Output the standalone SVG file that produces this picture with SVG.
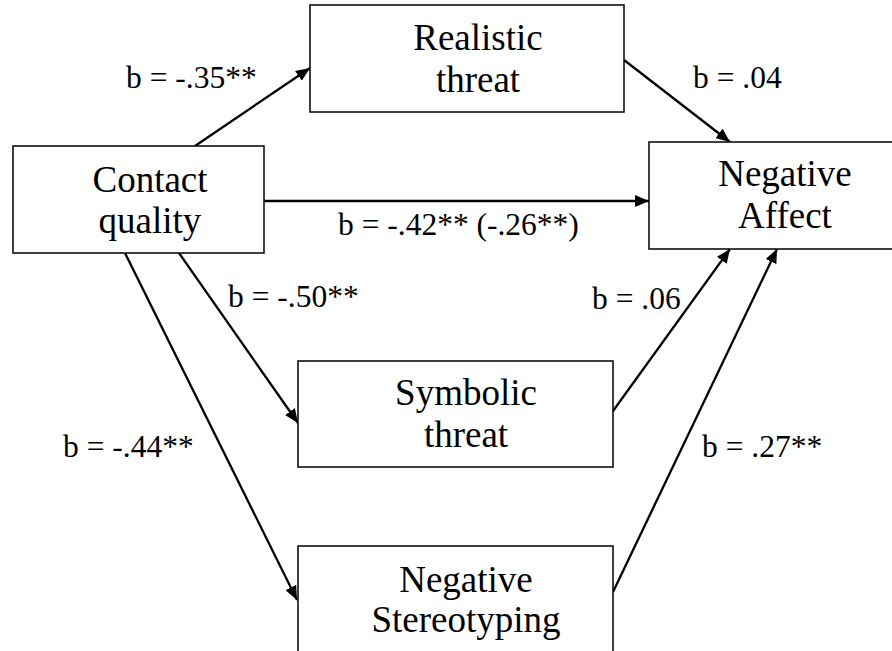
<svg xmlns="http://www.w3.org/2000/svg" width="892" height="651" viewBox="0 0 892 651">
<style>
.box{fill:#fff;stroke:#000;stroke-width:1.5}
.node{font-size:37px;text-anchor:middle;fill:#000}
.lbl{font-size:31.5px;fill:#000}
.edge{stroke:#000;stroke-width:2.3;fill:none;marker-end:url(#ah)}
</style>
<defs>
<marker id="ah" markerUnits="userSpaceOnUse" markerWidth="14" markerHeight="12" refX="14" refY="6" orient="auto">
<path d="M0,0 L14,6 L0,12 z" fill="#000"/>
</marker>
</defs>
<rect width="892" height="651" fill="#fff"/>
<g id="connectors">
<line class="edge" x1="195" y1="146" x2="310" y2="68"/>
<line class="edge" x1="264" y1="201" x2="649" y2="201"/>
<line class="edge" x1="624" y1="60" x2="730" y2="142"/>
<line class="edge" x1="179" y1="253" x2="298" y2="423"/>
<line class="edge" x1="125" y1="253" x2="297" y2="600"/>
<line class="edge" x1="613" y1="411" x2="730" y2="249"/>
<line class="edge" x1="613" y1="592" x2="777" y2="249"/>
</g>
<g font-family="Liberation Serif, Noto Serif, FreeSerif, DejaVu Serif, serif">
<g id="contact">
<rect class="box" x="13" y="146" width="251" height="107"/>
<text class="node" x="150" y="192">Contact</text>
<text class="node" x="150" y="233">quality</text>
</g>
<g id="realistic">
<rect class="box" x="310" y="5" width="314" height="107"/>
<text class="node" x="478" y="50">Realistic</text>
<text class="node" x="478" y="92">threat</text>
</g>
<g id="negaffect">
<rect class="box" x="649" y="142" width="260" height="107"/>
<text class="node" x="785" y="186">Negative</text>
<text class="node" x="785" y="228">Affect</text>
</g>
<g id="symbolic">
<rect class="box" x="298" y="361" width="315" height="106"/>
<text class="node" x="466" y="405">Symbolic</text>
<text class="node" x="466" y="447">threat</text>
</g>
<g id="stereotyping">
<rect class="box" x="298" y="546" width="315" height="120"/>
<text class="node" x="466" y="592">Negative</text>
<text class="node" x="466" y="632">Stereotyping</text>
</g>
<g id="labels">
<text class="lbl" x="126" y="88">b = -.35**</text>
<text class="lbl" x="693" y="88">b = .04</text>
<text class="lbl" x="338" y="235">b = -.42** (-.26**)</text>
<text class="lbl" x="228" y="307">b = -.50**</text>
<text class="lbl" x="592" y="309">b = .06</text>
<text class="lbl" x="63" y="457">b = -.44**</text>
<text class="lbl" x="702" y="457">b = .27**</text>
</g>
</g>
</svg>
